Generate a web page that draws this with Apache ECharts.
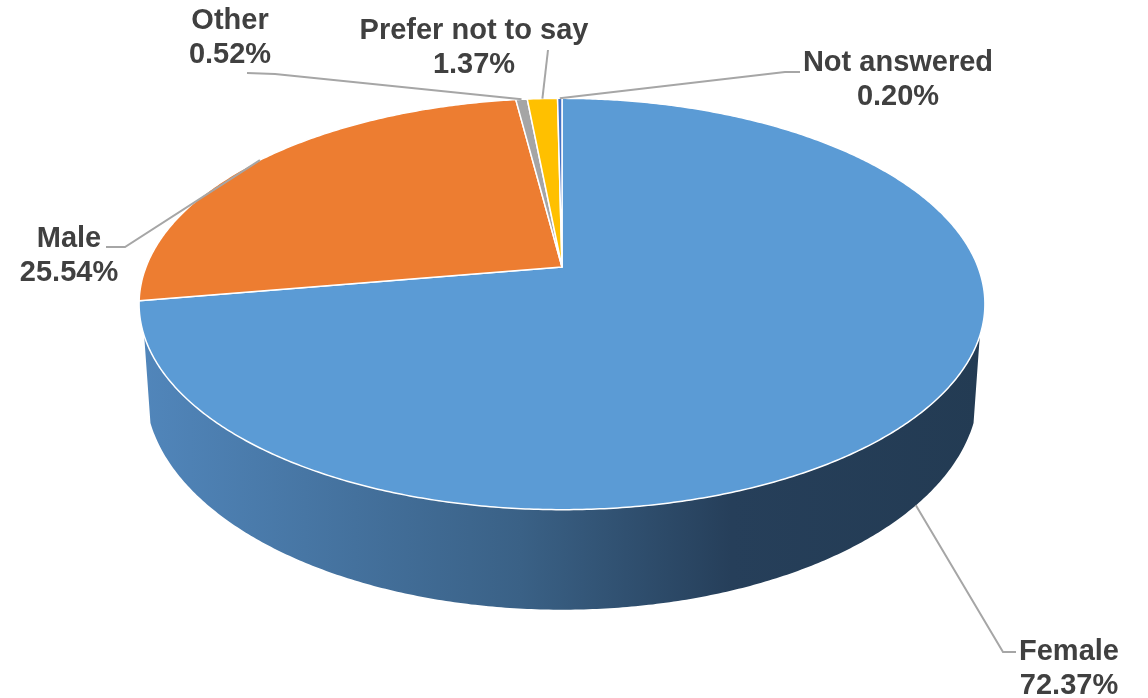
<!DOCTYPE html>
<html>
<head>
<meta charset="utf-8">
<script src="https://cdn.jsdelivr.net/npm/echarts@6/dist/echarts.min.js"></script>
<style>
html,body{margin:0;padding:0;background:#fff;}
#chart{width:1148px;height:698px;}
</style>
</head>
<body>
<div id="chart"></div>
<script>
// ---- data ----
const categories = ['Female', 'Male', 'Other', 'Prefer not to say', 'Not answered'];
const values = [72.37, 25.54, 0.52, 1.37, 0.20];

// ---- styles / layout ----
const topColors = ['#5b9bd5', '#ed7d31', '#a5a5a5', '#ffc000', '#4472c4'];
const wallStops = [
  [['0', '#5186bb'], ['0.45', '#3a6186'], ['0.7', '#263f5a'], ['1', '#233b53']],
  [['0', '#c0611f'], ['1', '#7a3d12']],
  [['0', '#888888'], ['1', '#555555']],
  [['0', '#d9a300'], ['1', '#8a6800']],
  [['0', '#3a62a8'], ['1', '#22396a']]
];
// label text centre and leader path (after the anchor on the slice)
const labelLayout = [
  { text: [1069, 669], path: [[1003, 652], [1016, 652]] },
  { text: [69, 256], path: [[125, 247], [106, 247]] },
  { text: [230, 38], path: [[275, 74], [247, 73]] },
  { text: [474, 48], path: [[548, 50]] },
  { text: [898, 80], path: [[785, 72], [800, 72]] }
];
const G = { cx: 562, cy: 267, A: 416, B: 199, k: 0.18, T: 82, bottomScale: 0.985 };
const wallVisible = [109, 251]; // angular range of the side wall seen from the camera

const total = values.reduce((a, b) => a + b, 0);
const starts = [];
let acc = 0;
values.forEach(v => { starts.push(acc / total * 360); acc += v; });

function proj(deg, down) {
  const p = deg * Math.PI / 180;
  const u = Math.sin(p), v = Math.cos(p);
  const s = 1 / (1 + G.k * v);
  const hs = down ? G.bottomScale : 1;
  return [G.cx + G.A * u * s * hs, G.cy - G.B * v * s + (down ? G.T * s : 0)];
}
function arc(a0, a1, down) {
  const pts = [];
  const n = Math.max(2, Math.ceil((a1 - a0) / 0.5));
  for (let i = 0; i <= n; i++) pts.push(proj(a0 + (a1 - a0) * i / n, down));
  return pts;
}
function range(i) {
  return [starts[i], starts[i] + values[i] / total * 360];
}

function renderWall(params, api) {
  const i = params.dataIndex;
  let [a0, a1] = range(i);
  a0 = Math.max(a0, wallVisible[0]);
  a1 = Math.min(a1, wallVisible[1]);
  if (a1 <= a0) return null;
  const top = arc(a0, a1, false);
  const bot = arc(a0, a1, true).reverse();
  return {
    type: 'polygon',
    shape: { points: top.concat(bot) },
    style: {
      fill: {
        type: 'linear', x: 140, y: 0, x2: 985, y2: 0, global: true,
        colorStops: wallStops[i].map(s => ({ offset: +s[0], color: s[1] }))
      },
      stroke: null
    }
  };
}
function renderTop(params, api) {
  const i = params.dataIndex;
  const [a0, a1] = range(i);
  const pts = [[G.cx, G.cy]].concat(arc(a0, a1, false));
  return {
    type: 'polygon',
    shape: { points: pts },
    style: { fill: topColors[i], stroke: '#ffffff', lineWidth: 1.5, lineJoin: 'round' }
  };
}
function renderLabel(params, api) {
  const i = params.dataIndex;
  const [a0, a1] = range(i);
  const mid = (a0 + a1) / 2;
  const v = Math.cos(mid * Math.PI / 180);
  const anchor = proj(mid, v < 0);
  const L = labelLayout[i];
  return {
    type: 'group',
    children: [
      {
        type: 'polyline',
        shape: { points: [anchor].concat(L.path) },
        style: { stroke: '#a6a6a6', lineWidth: 2, fill: null }
      },
      {
        type: 'text',
        x: L.text[0], y: L.text[1],
        style: {
          text: categories[i] + '\n' + api.value(0).toFixed(2) + '%',
          font: 'bold 29px "Liberation Sans", Arial, sans-serif',
          fill: '#404040',
          align: 'center',
          verticalAlign: 'middle',
          lineHeight: 34
        }
      }
    ]
  };
}

const chart = echarts.init(document.getElementById('chart'), null, { renderer: 'canvas' });
chart.setOption({
  animation: false,
  backgroundColor: '#ffffff',
  series: [
    { type: 'custom', coordinateSystem: 'none', z: 1, data: values, renderItem: renderWall, silent: true },
    { type: 'custom', coordinateSystem: 'none', z: 2, data: values, renderItem: renderTop, silent: true },
    { type: 'custom', coordinateSystem: 'none', z: 3, data: values, renderItem: renderLabel, silent: true }
  ]
});
</script>
</body>
</html>
